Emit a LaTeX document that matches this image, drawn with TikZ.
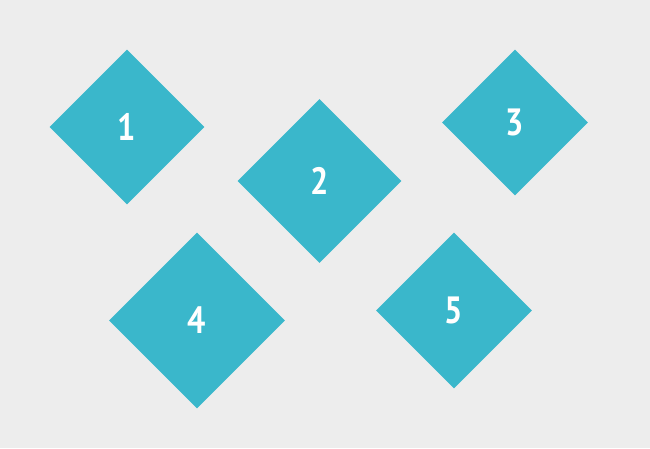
\documentclass[tikz,border=0pt]{standalone}
\usepackage{fontspec}
\setmainfont{PT Sans}
\newfontfamily\tilefont[FakeStretch=0.85]{PT Sans}
\usetikzlibrary{shapes.geometric}
\definecolor{tile}{HTML}{3AB7CB}
\definecolor{paper}{HTML}{EDEDED}

\begin{document}
\begin{tikzpicture}[x=1pt, y=-1pt]
\fill[paper] (0,0) rectangle (650,448);
\useasboundingbox (0,0) rectangle (650,448);
\tikzstyle{every node} = [diamond, aspect=1, fill=tile, inner sep=0pt, text=white,
	font=\tilefont\fontsize{38}{42}\selectfont\bfseries]
\node[minimum size=155pt] (one) at (127,127) {1};
\node[minimum size=164pt] (two) at (319.5,181) {2};
\node[minimum size=146pt] (three) at (515,122.5) {3};
\node[minimum size=176pt] (four) at (197,320.5) {4};
\node[minimum size=156pt] (five) at (454,310.5) {5};
\end{tikzpicture}
\end{document}
